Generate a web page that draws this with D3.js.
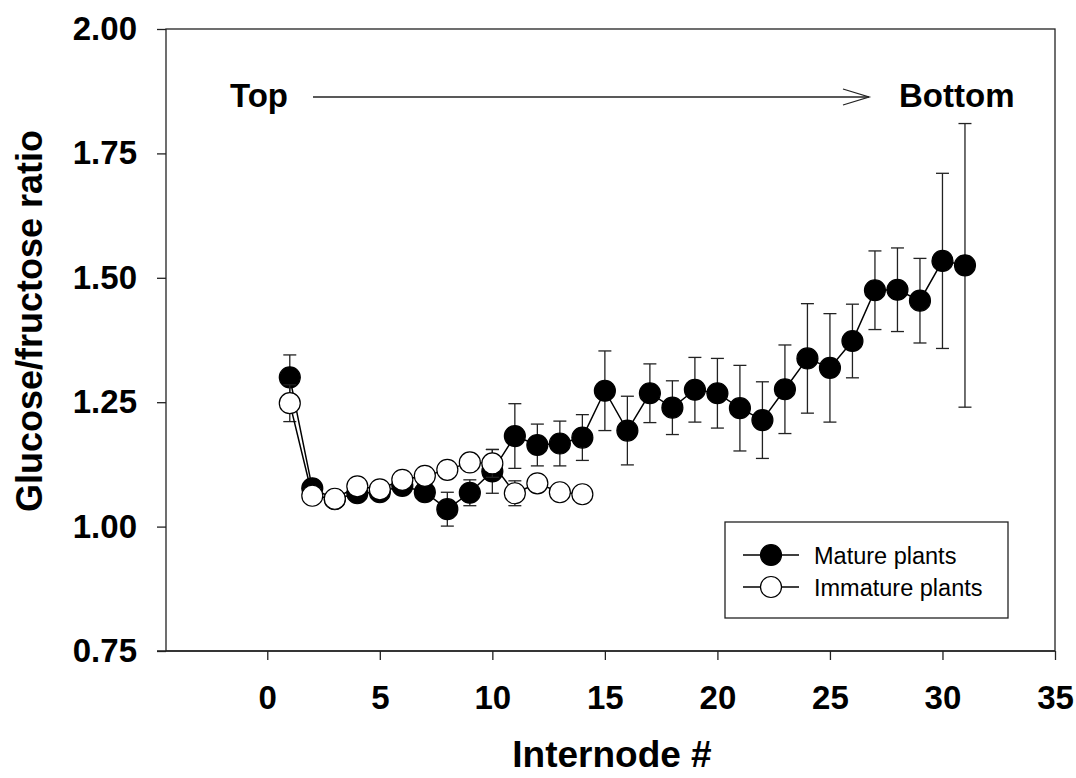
<!DOCTYPE html>
<html>
<head>
<meta charset="utf-8">
<script src="https://cdn.jsdelivr.net/npm/d3@7"></script>
<style>
  html, body { margin: 0; padding: 0; background: #fff; }
  svg { display: block; font-family: "Liberation Sans", Arial, sans-serif; }
</style>
</head>
<body>
<svg id="chart" width="1076" height="778"></svg>
<script>
// ---- data ----
const matureX = [1,2,3,4,5,6,7,8,9,10,11,12,13,14,15,16,17,18,19,20,21,22,23,24,25,26,27,28,29,30,31];
const matureY = [1.300,1.077,1.055,1.067,1.069,1.082,1.069,1.035,1.068,1.111,1.182,1.164,1.167,1.179,1.273,1.193,1.268,1.239,1.275,1.268,1.238,1.214,1.276,1.338,1.319,1.373,1.475,1.476,1.454,1.534,1.525];
const matureSE = [0.045,0.015,0.015,0.015,0.015,0.015,0.015,0.034,0.026,0.044,0.065,0.042,0.045,0.046,0.080,0.069,0.059,0.054,0.065,0.070,0.086,0.077,0.089,0.110,0.109,0.074,0.079,0.084,0.085,0.176,0.285];
const immatureX = [1,2,3,4,5,6,7,8,9,10,11,12,13,14];
const immatureY = [1.248,1.062,1.056,1.081,1.075,1.094,1.102,1.114,1.129,1.127,1.067,1.087,1.069,1.065];
const immatureSE = [0.037,0.012,0.012,0.012,0.012,0.012,0.012,0.012,0.012,0.028,0.025,0.012,0.012,0.012];
const xTicks = [0,5,10,15,20,25,30,35];
const yTicks = [0.75,1.00,1.25,1.50,1.75,2.00];
const seriesNames = ["Mature plants","Immature plants"];
const xTitle = "Internode #";
const yTitle = "Glucose/fructose ratio";

// ---- layout ----
const svg = d3.select("#chart");
const L = 166, R = 1055, T = 29, B = 651;
const x = d3.scaleLinear().domain([-4.5, 35]).range([L, R]);
const y = d3.scaleLinear().domain([0.75, 2.0]).range([B, T]);
const rad = 10.5;

// frame
svg.append("rect").attr("x", L).attr("y", T).attr("width", R - L).attr("height", B - T)
  .attr("fill", "none").attr("stroke", "#222").attr("stroke-width", 1.3);

// axes
const xAxis = svg.append("g").attr("transform", `translate(0,${B})`)
  .call(d3.axisBottom(x).tickValues(xTicks).tickSize(9).tickPadding(26).tickFormat(d3.format("d")));
const yAxis = svg.append("g").attr("transform", `translate(${L},0)`)
  .call(d3.axisLeft(y).tickValues(yTicks).tickSize(9).tickPadding(20).tickFormat(d3.format(".2f")));
[xAxis, yAxis].forEach(g => {
  g.select(".domain").remove();
  g.selectAll(".tick line").attr("stroke", "#222").attr("stroke-width", 1.3);
  g.selectAll(".tick text").attr("fill", "#000").attr("font-size", 33).attr("font-weight", "bold")
    .attr("font-family", "Liberation Sans, Arial, sans-serif");
});
// extend bottom axis line left to the tick length like the original
svg.append("line").attr("x1", L - 9).attr("x2", R).attr("y1", B).attr("y2", B)
  .attr("stroke", "#222").attr("stroke-width", 1.3);

// axis titles
svg.append("text").attr("x", 612).attr("y", 767).attr("text-anchor", "middle")
  .attr("font-size", 37).attr("font-weight", "bold").text(xTitle);
svg.append("text").attr("transform", "translate(42,321) rotate(-90)").attr("text-anchor", "middle")
  .attr("font-size", 36).attr("font-weight", "bold").text(yTitle);

// Top -> Bottom annotation
svg.append("text").attr("x", 230).attr("y", 107).attr("font-size", 33).attr("font-weight", "bold").text("Top");
svg.append("text").attr("x", 899).attr("y", 107).attr("font-size", 33).attr("font-weight", "bold").text("Bottom");
svg.append("line").attr("x1", 313).attr("x2", 869).attr("y1", 97).attr("y2", 97)
  .attr("stroke", "#222").attr("stroke-width", 1.3);
svg.append("path").attr("d", "M843,89 L869,97 L843,105").attr("fill", "none")
  .attr("stroke", "#222").attr("stroke-width", 1.3);

function drawSeries(xs, ys, se, fill) {
  const g = svg.append("g");
  const pts = xs.map((d, i) => ({x: d, y: ys[i], e: se[i]}));
  // error bars
  const eb = g.selectAll("g.eb").data(pts).join("g");
  eb.append("line").attr("x1", d => x(d.x)).attr("x2", d => x(d.x))
    .attr("y1", d => y(d.y + d.e)).attr("y2", d => y(d.y - d.e))
    .attr("stroke", "#222").attr("stroke-width", 1.3);
  eb.append("line").attr("x1", d => x(d.x) - 6.5).attr("x2", d => x(d.x) + 6.5)
    .attr("y1", d => y(d.y + d.e)).attr("y2", d => y(d.y + d.e))
    .attr("stroke", "#222").attr("stroke-width", 1.3);
  eb.append("line").attr("x1", d => x(d.x) - 6.5).attr("x2", d => x(d.x) + 6.5)
    .attr("y1", d => y(d.y - d.e)).attr("y2", d => y(d.y - d.e))
    .attr("stroke", "#222").attr("stroke-width", 1.3);
  // line
  g.append("path").datum(pts)
    .attr("d", d3.line().x(d => x(d.x)).y(d => y(d.y)))
    .attr("fill", "none").attr("stroke", "#000").attr("stroke-width", 1.5);
  // markers
  g.selectAll("circle").data(pts).join("circle")
    .attr("cx", d => x(d.x)).attr("cy", d => y(d.y)).attr("r", rad)
    .attr("fill", fill).attr("stroke", "#000").attr("stroke-width", 1.2);
}
drawSeries(matureX, matureY, matureSE, "#000");
drawSeries(immatureX, immatureY, immatureSE, "#fff");

// legend
const lg = svg.append("g");
lg.append("rect").attr("x", 725).attr("y", 522).attr("width", 283).attr("height", 96)
  .attr("fill", "#fff").attr("stroke", "#222").attr("stroke-width", 1.3);
const legRows = [{name: seriesNames[0], fill: "#000", cy: 555}, {name: seriesNames[1], fill: "#fff", cy: 587}];
legRows.forEach(r => {
  lg.append("line").attr("x1", 743).attr("x2", 799).attr("y1", r.cy).attr("y2", r.cy)
    .attr("stroke", "#000").attr("stroke-width", 1.5);
  lg.append("circle").attr("cx", 771).attr("cy", r.cy).attr("r", rad)
    .attr("fill", r.fill).attr("stroke", "#000").attr("stroke-width", 1.2);
  lg.append("text").attr("x", 814).attr("y", r.cy + 8.5).attr("font-size", 23.5).text(r.name);
});
</script>
</body>
</html>
